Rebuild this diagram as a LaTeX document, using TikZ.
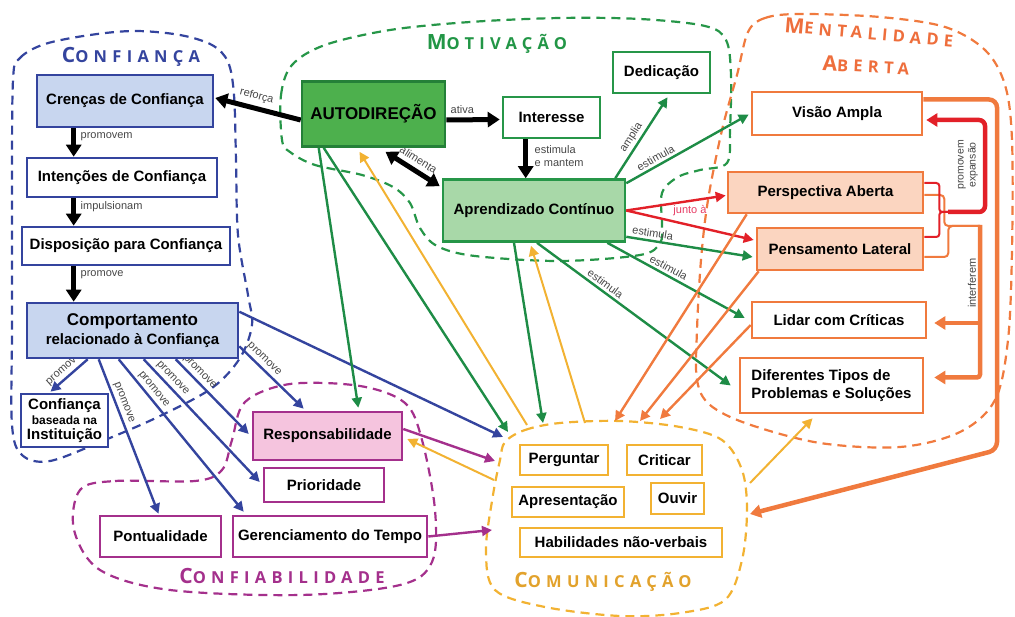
\documentclass[tikz,border=0pt]{standalone}
\usepackage{fontspec}
\setmainfont{Liberation Sans}
\newfontfamily\grpfont[LetterSpace=32]{Open Sans}
\usetikzlibrary{arrows.meta,calc,backgrounds}

\definecolor{cblue}{RGB}{52,68,158}
\definecolor{cbluefill}{RGB}{200,214,239}
\definecolor{cgreen}{RGB}{38,150,72}
\definecolor{cgreendark}{RGB}{36,128,56}
\definecolor{cgreenmid}{RGB}{77,176,77}
\definecolor{cgreenfill}{RGB}{168,216,168}
\definecolor{carrgreen}{RGB}{30,140,70}
\definecolor{corange}{RGB}{240,122,62}
\definecolor{cpeach}{RGB}{251,213,192}
\definecolor{cred}{RGB}{226,32,40}
\definecolor{cpurple}{RGB}{164,48,140}
\definecolor{cpink}{RGB}{245,196,222}
\definecolor{cgold}{RGB}{242,178,50}
\definecolor{cgoldtext}{RGB}{226,162,44}
\definecolor{labelgray}{RGB}{70,70,70}
\definecolor{cjunto}{RGB}{230,60,100}
\definecolor{cgreentext}{RGB}{34,150,70}
\definecolor{corangetext}{RGB}{238,110,60}

% group title: one large capital followed by smaller capitals
\newcommand{\grplbl}[2]{\grpfont\bfseries\fontsize{21}{21}\selectfont#1\fontsize{16.5}{16.5}\selectfont#2}

\begin{document}
\begin{tikzpicture}[x=1pt, y=-1pt,
  box/.style={draw, line width=2.6pt, inner sep=2pt, align=center, font=\fontsize{15}{17}\selectfont\bfseries},
  bbox/.style={box, draw=cblue, fill=white},
  gbox/.style={box, draw=cgreen, fill=white},
  obox/.style={box, draw=corange, fill=white},
  pbox/.style={box, draw=cpurple, fill=white},
  ybox/.style={box, draw=cgold, fill=white, line width=2.2pt},
  lbl/.style={font=\fontsize{11}{13}\selectfont, text=labelgray, inner sep=1.5pt},
  grpline/.style={line width=2.2pt, dash pattern=on 9pt off 6pt},
  grptitle/.style={inner sep=0pt},
  blk/.style={line width=5pt, draw=black, -{Triangle[length=12pt,width=15pt]}},
  arr/.style={line width=2.4pt, -{Triangle[length=10pt,width=10pt]}},
  barr/.style={arr, draw=cblue},
  garr/.style={arr, draw=carrgreen},
  yarr/.style={arr, draw=cgold, line width=2pt},
  parr/.style={arr, draw=cpurple},
  oarr/.style={arr, draw=corange},
  rarr/.style={arr, draw=cred},
  othin/.style={line width=2pt, draw=corange, rounded corners=4pt},
  othick/.style={line width=4.5pt, draw=corange, -{Triangle[length=11pt,width=13pt]}},
  rthin/.style={line width=2pt, draw=cred, rounded corners=3pt},
  rthick/.style={line width=4.5pt, draw=cred, rounded corners=6pt, -{Triangle[length=11pt,width=13pt]}},
]
\useasboundingbox (0,0) rectangle (1015,617);

% ---------- Confiança ----------
\node[bbox, fill=cbluefill, minimum width=176, minimum height=52] (cren) at (125,101) {Crenças de Confiança};
\node[bbox, minimum width=190, minimum height=39] (inten) at (122,177.5) {Intenções de Confiança};
\node[bbox, minimum width=208, minimum height=38] (dispo) at (126,246) {Disposição para Confiança};
\node[bbox, fill=cbluefill, minimum width=211, minimum height=55, font=\fontsize{15}{19}\selectfont\bfseries] (comp) at (132.5,330.5) {{\fontsize{17}{19}\selectfont Comportamento}\\relacionado à Confiança};
\node[bbox, minimum width=87, minimum height=53, font=\fontsize{15}{15}\selectfont\bfseries] (inst) at (64.5,420.5) {Confiança\\{\fontsize{12}{14}\selectfont baseada na}\\Instituição};

% ---------- Motivação ----------
\node[gbox, fill=cgreenmid, draw=cgreendark, minimum width=143, minimum height=65, font=\fontsize{17}{19}\selectfont\bfseries] (auto) at (373.5,114) {AUTODIREÇÃO};
\node[gbox, minimum width=97, minimum height=41] (inter) at (551.5,117.5) {Interesse};
\node[gbox, minimum width=97, minimum height=41] (dedi) at (661.5,72.5) {Dedicação};
\node[gbox, fill=cgreenfill, minimum width=182, minimum height=62] (apren) at (534,210.5) {Aprendizado Contínuo};

% ---------- Mentalidade Aberta ----------
\node[obox, minimum width=170, minimum height=43] (visao) at (837,113.5) {Visão Ampla};
\node[obox, fill=cpeach, minimum width=195, minimum height=41] (persp) at (825.5,192.5) {Perspectiva Aberta};
\node[obox, fill=cpeach, minimum width=166, minimum height=42] (pensa) at (840,249) {Pensamento Lateral};
\node[obox, minimum width=174, minimum height=36] (lidar) at (839,320) {Lidar com Críticas};
\node[obox, minimum width=183, minimum height=55, align=left, font=\fontsize{15}{18}\selectfont\bfseries] (difer) at (831.5,385.5) {Diferentes Tipos de\\Problemas e Soluções};

% ---------- Confiabilidade ----------
\node[pbox, fill=cpink, minimum width=149, minimum height=48] (resp) at (327.5,436) {Responsabilidade};
\node[pbox, minimum width=120, minimum height=34] (prior) at (324,485) {Prioridade};
\node[pbox, minimum width=121, minimum height=41] (pont) at (160.5,536.5) {Pontualidade};
\node[pbox, minimum width=194, minimum height=41] (geren) at (330,536.5) {Gerenciamento do Tempo};

% ---------- Comunicação ----------
\node[ybox, minimum width=88, minimum height=30] (perg) at (564,460) {Perguntar};
\node[ybox, minimum width=75, minimum height=30] (crit) at (664.5,460) {Criticar};
\node[ybox, minimum width=112, minimum height=30] (apres) at (568,502) {Apresentação};
\node[ybox, minimum width=53, minimum height=31] (ouvir) at (677.5,498.5) {Ouvir};
\node[ybox, minimum width=202, minimum height=29] (habil) at (621,542.5) {Habilidades não-verbais};

% ---------- group titles ----------
\node[grptitle, text=cblue] (tConf) at (131,57) {\grplbl{C}{ONFIANÇA}};
\node[grptitle, text=cgreentext] (tMot) at (497,44) {\grplbl{M}{OTIVAÇÃO}};
\node[grptitle, text=corangetext, rotate=-5] (tMent) at (869,32) {\grplbl{M}{ENTALIDADE}};
\node[grptitle, text=corangetext, rotate=-3] (tAb) at (866,65) {\grplbl{A}{BERTA}};
\node[grptitle, text=cpurple] (tConfi) at (282,576) {\grplbl{C}{ONFIABILIDADE}};
\node[grptitle, text=cgoldtext] (tCom) at (603,582) {\grplbl{C}{OMUNICAÇÃO}};

% ---------- side labels ----------
\node[lbl, rotate=90, align=center, font=\fontsize{10.5}{12}\selectfont] (lPromo) at (968,165) {promovem\\expansão};
\node[lbl, rotate=90] (lInter) at (972,283) {interferem};

% points on the Comunicação boundary and junctions
\coordinate (cB) at (503,437);
\coordinate (cG1) at (543,423);
\coordinate (cG2) at (508,432);
\coordinate (cY1) at (527,425);
\coordinate (cY2) at (585,423);
\coordinate (cY3) at (494,480);
\coordinate (cY4) at (750,483);
\coordinate (cP1) at (495,461);
\coordinate (cP2) at (492,530);
\coordinate (cO1) at (615,421);
\coordinate (cO2) at (640,421);
\coordinate (cO3) at (660,419);
\coordinate (cO4) at (750,514);
\coordinate (vb) at (997,450);
\coordinate (jI) at (980,226);
\coordinate (jR) at (948,212);
\coordinate (rTop) at (985,120);

\begin{scope}[on background layer]
% group outlines
\draw[grpline, cblue] plot[smooth cycle, tension=0.55] coordinates {(13,80) (20,58) (45,44) (90,35) (135,31) (180,35) (212,45) (228,62) (234,95) (236,160) (238,235) (248,295) (252,325) (240,358) (212,388) (160,416) (105,440) (50,461) (22,455) (12,425) (12,330) (12,200)};
\draw[grpline, cgreen] plot[smooth cycle, tension=0.55] coordinates {(282,140) (281,95) (292,65) (325,45) (390,30) (470,22) (560,18) (640,19) (705,26) (726,40) (731,75) (730,130) (727,163) (700,170) (678,177) (662,193) (662,225) (660,243) (640,255) (560,261) (475,256) (437,246) (420,228) (410,203) (393,187) (362,175) (315,165) (290,152)};
\draw[grpline, corange] plot[smooth cycle, tension=0.55] coordinates {(748,32) (765,18) (800,14) (880,17) (945,27) (985,50) (1005,85) (1012,140) (1012,250) (1008,340) (995,400) (960,432) (900,447) (820,443) (748,424) (710,405) (697,380) (697,330) (701,260) (708,200) (722,130) (737,75)};
\draw[grpline, cgold] plot[smooth cycle, tension=0.55] coordinates {(505,442) (525,430) (560,423) (620,421) (680,427) (722,440) (742,470) (747,510) (742,560) (725,600) (680,613) (620,616) (545,607) (495,590) (486,550) (493,495) (500,460)};
\draw[grpline, cpurple] plot[smooth cycle, tension=0.55] coordinates {(80,490) (115,481) (195,481) (222,470) (232,440) (245,402) (290,384) (360,386) (405,403) (422,440) (435,510) (432,562) (400,585) (300,595) (170,590) (100,570) (74,530)};

% black links
\draw[blk] ($(auto.west)+(0,6)$) -- node[lbl, sloped, above=3pt, pos=0.55]{reforça} ($(cren.east)+(1,-3)$);
\draw[blk] ($(cren.south west)+(38,0)$) -- node[lbl, right=3pt, pos=0.3]{promovem} ($(inten.north west)+(48,0)$);
\draw[blk] ($(inten.south west)+(48,0)$) -- node[lbl, right=3pt, pos=0.3]{impulsionam} ($(dispo.north west)+(53,0)$);
\draw[blk] ($(dispo.south west)+(53,0)$) -- node[lbl, right=3pt, pos=0.25]{promove} ($(comp.north west)+(48,0)$);
\draw[blk] ($(auto.east)+(0,6)$) -- node[lbl, above=2pt, pos=0.3]{ativa} ($(inter.west)+(-2,2)$);
\draw[blk] ($(inter.south west)+(24,0)$) -- node[lbl, right=5pt, pos=0.42, align=left, font=\fontsize{11}{13}\selectfont]{estimula\\e mantem} ($(apren.north west)+(84,0)$);
\draw[blk, {Triangle[length=12pt,width=15pt]}-{Triangle[length=12pt,width=15pt]}] ($(auto.south)+(12,4)$) -- node[lbl, sloped, above=3pt, pos=0.5]{alimenta} ($(apren.north west)+(-2,8)$);

% blue links
\draw[barr] ($(comp.south west)+(62,0)$) -- node[lbl, sloped, above=1pt, pos=0.5]{promove} ($(inst.north)+(-14,-1)$);
\draw[barr] ($(comp.south west)+(73,0)$) -- node[lbl, sloped, above=1pt, pos=0.3]{promove} ($(pont.north)+(-2,-1)$);
\draw[barr] ($(comp.south west)+(93,0)$) -- node[lbl, sloped, above=1pt, pos=0.23]{promove} ($(geren.north west)+(12,-3)$);
\draw[barr] ($(comp.south west)+(118,0)$) -- node[lbl, sloped, above=1pt, pos=0.2]{promove} ($(prior.west)+(-3,-3)$);
\draw[barr] ($(comp.south west)+(150,0)$) -- node[lbl, sloped, above=1pt, pos=0.25]{promove} ($(resp.west)+(-3,-2)$);
\draw[barr] ($(comp.south east)+(0,-13)$) -- node[lbl, sloped, above=1pt, pos=0.3]{promove} ($(resp.north west)+(52,-2)$);
\draw[barr] ($(comp.north east)+(0,10)$) -- (cB);

% green links
\draw[garr] ($(apren.north east)+(-11,0)$) -- node[lbl, sloped, above=1pt, pos=0.45]{amplia} ($(dedi.south)+(6,3)$);
\draw[garr] ($(apren.north east)+(0,5)$) -- node[lbl, sloped, above=1pt, pos=0.27]{estimula} ($(visao.west)+(-2,1)$);
\draw[garr] ($(apren.south east)+(0,-6)$) -- node[lbl, sloped, above=1pt, pos=0.2]{estimula} ($(pensa.west)+(-3,8)$);
\draw[garr] ($(apren.south east)+(-19,0)$) -- node[lbl, sloped, above=1pt, pos=0.42]{estimula} ($(lidar.west)+(-6,-2)$);
\draw[garr] ($(apren.south)+(3,0)$) -- node[lbl, sloped, above=1pt, pos=0.33]{estimula} ($(difer.west)+(-8,0)$);
\draw[garr] ($(apren.south)+(-20,0)$) -- (cG1);
\draw[garr] ($(auto.south west)+(18,0)$) -- ($(resp.north east)+(-45,-3)$);
\draw[garr] ($(auto.south west)+(23,0)$) -- (cG2);

% red links
\draw[rarr] (apren.east) -- ($(persp.west)+(-1,3)$);
\draw[rarr] (apren.east) -- node[pos=0.5, above=7pt, font=\fontsize{11}{13}\selectfont, text=cjunto, inner sep=1pt]{junto à} ($(pensa.west)+(-2,-9)$);

% gold links
\draw[yarr] (cY1) -- ($(auto.south)+(-14,4)$);
\draw[yarr] (cY2) -- ($(apren.south)+(-3,3)$);
\draw[yarr] (cY3) -- ($(resp.east)+(4,3)$);
\draw[yarr] (cY4) -- ($(difer.south)+(-19,4)$);

% purple links
\draw[parr] ($(resp.east)+(0,-7)$) -- (cP1);
\draw[parr] (geren.east) -- (cP2);

% orange links
\draw[oarr] ($(persp.south west)+(20,0)$) -- (cO1);
\draw[oarr] ($(pensa.south west)+(3,0)$) -- (cO2);
\draw[oarr] ($(lidar.west)+(0,5)$) -- (cO3);
\draw[othick, rounded corners=8pt] ($(visao.east)+(0,-14)$) -| (vb) -- (cO4);

% interferem bracket
\draw[othin] ($(persp.east)+(0,2.5)$) -- ++(20,0) |- (jI);
\draw[othin] ($(pensa.east)+(0,8)$) -- ++(24,0) |- (jI);
\draw[othick, rounded corners=3pt] ($(jI)+(0,-1)$) |- ($(difer.east)+(10,-8)$);
\draw[othick] ($(jI)+(0,97)$) -- ($(lidar.east)+(7,3)$);

% promovem expansão bracket
\draw[rthin] ($(persp.east)+(0,-9.5)$) -- ++(15,0) |- (jR);
\draw[rthin] ($(pensa.east)+(0,-12)$) -- ++(15,0) |- (jR);
\draw[rthick] (jR) -| (rTop) -- ($(visao.east)+(3,6.5)$);
\end{scope}
\end{tikzpicture}
\end{document}
